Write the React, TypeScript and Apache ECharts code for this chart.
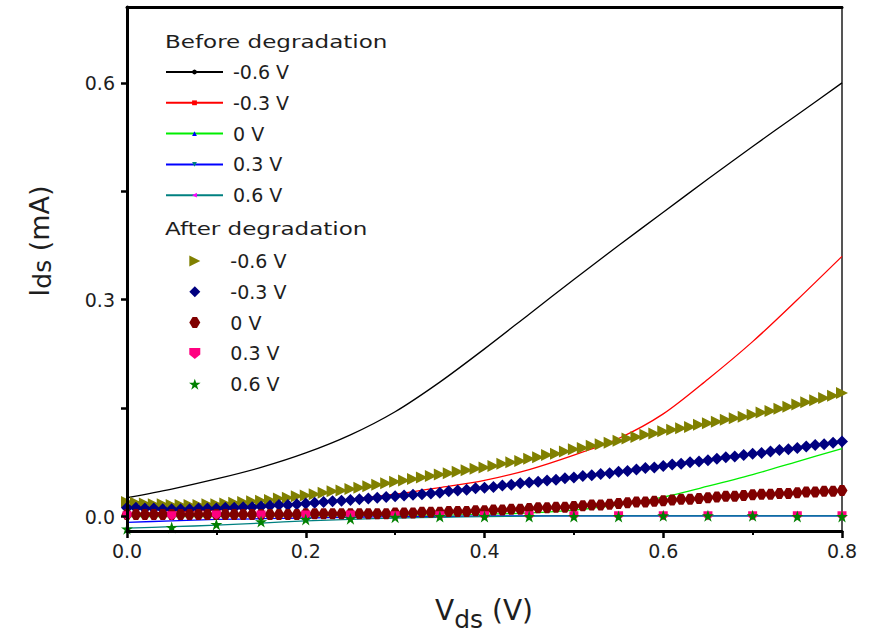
import React, { useEffect, useRef } from "react";
import * as echarts from "echarts";

// ---------- data ----------
const xsCoarse = [0, 0.05, 0.1, 0.15, 0.2, 0.25, 0.3, 0.35, 0.4, 0.45, 0.5, 0.55, 0.6, 0.65, 0.7, 0.75, 0.8];

const xsFine = [
  0.0, 0.01, 0.02, 0.03, 0.04, 0.05, 0.06, 0.07, 0.08, 0.09,
  0.1, 0.11, 0.12, 0.13, 0.14, 0.15, 0.16, 0.17, 0.18, 0.19,
  0.2, 0.21, 0.22, 0.23, 0.24, 0.25, 0.26, 0.27, 0.28, 0.29,
  0.3, 0.31, 0.32, 0.33, 0.34, 0.35, 0.36, 0.37, 0.38, 0.39,
  0.4, 0.41, 0.42, 0.43, 0.44, 0.45, 0.46, 0.47, 0.48, 0.49,
  0.5, 0.51, 0.52, 0.53, 0.54, 0.55, 0.56, 0.57, 0.58, 0.59,
  0.6, 0.61, 0.62, 0.63, 0.64, 0.65, 0.66, 0.67, 0.68, 0.69,
  0.7, 0.71, 0.72, 0.73, 0.74, 0.75, 0.76, 0.77, 0.78, 0.79, 0.8,
];

// Before degradation (lines), mA, sampled on xsCoarse
const beforeM06 = [0.026, 0.038, 0.052, 0.068, 0.088, 0.113, 0.145, 0.186, 0.232, 0.28, 0.328, 0.375, 0.421, 0.467, 0.512, 0.556, 0.6];
const beforeM03 = [0.004, 0.006, 0.009, 0.013, 0.018, 0.024, 0.031, 0.04, 0.05, 0.065, 0.085, 0.108, 0.142, 0.19, 0.242, 0.3, 0.36];
const before0 = [0.0, 0.0, 0.0, 0.001, 0.001, 0.001, 0.002, 0.002, 0.003, 0.005, 0.009, 0.016, 0.027, 0.042, 0.058, 0.076, 0.094];
const beforeP03 = [-0.008, -0.006, -0.004, -0.003, -0.002, -0.001, 0.0, 0.0, 0.001, 0.001, 0.001, 0.001, 0.001, 0.001, 0.001, 0.001, 0.001];
const beforeP06 = [-0.016, -0.014, -0.012, -0.009, -0.006, -0.004, -0.002, -0.001, 0.0, 0.0005, 0.001, 0.001, 0.001, 0.001, 0.001, 0.001, 0.001];

// After degradation (markers)
const afterM06 = [
  0.02, 0.019, 0.018, 0.017, 0.017, 0.016, 0.016, 0.016, 0.016, 0.017,
  0.017, 0.018, 0.019, 0.02, 0.021, 0.022, 0.023, 0.025, 0.026, 0.028,
  0.029, 0.031, 0.033, 0.035, 0.036, 0.038, 0.04, 0.042, 0.044, 0.046,
  0.048, 0.05, 0.052, 0.054, 0.056, 0.058, 0.06, 0.062, 0.064, 0.066,
  0.068, 0.07, 0.073, 0.075, 0.077, 0.08, 0.082, 0.085, 0.087, 0.09,
  0.093, 0.095, 0.098, 0.1, 0.102, 0.105, 0.108, 0.11, 0.113, 0.115,
  0.118, 0.12, 0.122, 0.124, 0.127, 0.129, 0.131, 0.134, 0.136, 0.138,
  0.141, 0.144, 0.146, 0.149, 0.152, 0.155, 0.158, 0.161, 0.164, 0.167, 0.171,
];
const afterM03 = [
  0.012, 0.012, 0.011, 0.011, 0.01, 0.01, 0.01, 0.01, 0.011, 0.011,
  0.011, 0.012, 0.012, 0.013, 0.013, 0.014, 0.015, 0.016, 0.016, 0.017,
  0.018, 0.019, 0.02, 0.021, 0.022, 0.023, 0.024, 0.025, 0.026, 0.027,
  0.028, 0.029, 0.03, 0.031, 0.032, 0.033, 0.035, 0.036, 0.037, 0.039,
  0.04, 0.041, 0.043, 0.044, 0.046, 0.047, 0.048, 0.05, 0.051, 0.053,
  0.054, 0.056, 0.057, 0.059, 0.06, 0.062, 0.063, 0.065, 0.067, 0.068,
  0.07, 0.072, 0.073, 0.075, 0.076, 0.078, 0.08, 0.082, 0.083, 0.085,
  0.087, 0.088, 0.09, 0.092, 0.093, 0.095, 0.097, 0.099, 0.1, 0.102, 0.104,
];
const after0 = [
  0.003, 0.003, 0.003, 0.003, 0.003, 0.003, 0.003, 0.003, 0.003, 0.003,
  0.003, 0.003, 0.003, 0.003, 0.003, 0.003, 0.003, 0.003, 0.003, 0.003,
  0.004, 0.004, 0.004, 0.004, 0.004, 0.004, 0.004, 0.004, 0.004, 0.004,
  0.005, 0.005, 0.005, 0.006, 0.006, 0.006, 0.007, 0.007, 0.007, 0.008,
  0.008, 0.009, 0.009, 0.01, 0.01, 0.011, 0.012, 0.012, 0.013, 0.013,
  0.014, 0.015, 0.016, 0.016, 0.017, 0.018, 0.019, 0.02, 0.02, 0.021,
  0.022, 0.023, 0.024, 0.024, 0.025, 0.026, 0.027, 0.028, 0.028, 0.029,
  0.03, 0.031, 0.031, 0.032, 0.032, 0.033, 0.034, 0.034, 0.035, 0.035, 0.036,
];
const afterP03 = [0.001, 0.001, 0.002, 0.002, 0.002, 0.002, 0.001, 0.001, 0.001, 0.001, 0.001, 0.001, 0.001, 0.001, 0.001, 0.001, 0.001];
const afterP06 = [-0.017, -0.015, -0.011, -0.007, -0.004, -0.003, -0.001, 0.0, 0.0, 0.0, 0.0, 0.0, 0.001, 0.001, 0.001, 0.0, 0.0];

const legendLabels = ["-0.6 V", "-0.3 V", "0 V", "0.3 V", "0.6 V"];
const yTicks = [0, 0.3, 0.6];
const yAllTicks = [0, 0.15, 0.3, 0.45, 0.6];

// ---------- symbols ----------
const TRI_RIGHT = "path://M0,0 L10,5 L0,10 Z";
const TRI_DOWN = "path://M0,0 L10,0 L5,10 Z";
const TRI_LEFT = "path://M10,0 L0,5 L10,10 Z";
const DIAMOND = "path://M5,0 L10,5 L5,10 L0,5 Z";
const HEXAGON = "path://M3,0 L7,0 L10,5 L7,10 L3,10 L0,5 Z";
const PENTA_DOWN = "path://M0,0 L10,0 L10,6 L5,10 L0,6 Z";
const STAR = "path://M5,0 L6.2,3.6 L10,3.6 L6.9,5.8 L8.1,9.5 L5,7.2 L1.9,9.5 L3.1,5.8 L0,3.6 L3.8,3.6 Z";

const FONT = "DejaVu Sans";
const TEXT_COLOR = "#1e1e1e";

const pairs = (xs: number[], ys: number[]) => xs.map((x, i) => [x, ys[i]]);

export default function App() {
  const ref = useRef<HTMLDivElement>(null);

  useEffect(() => {
    if (!ref.current) return;
    const chart = echarts.init(ref.current, undefined, { renderer: "svg" });

    const beforeDefs = [
      { ys: beforeM06, line: "#000000", sym: "circle", symColor: "#000000" },
      { ys: beforeM03, line: "#ff0000", sym: "rect", symColor: "#ff0000" },
      { ys: before0, line: "#00ee00", sym: "triangle", symColor: "#0000ff" },
      { ys: beforeP03, line: "#0000ff", sym: TRI_DOWN, symColor: "#008080" },
      { ys: beforeP06, line: "#008080", sym: TRI_LEFT, symColor: "#ff00ff" },
    ];
    const afterDefs = [
      { ys: afterM06, xs: xsFine, sym: TRI_RIGHT, color: "#808000", size: 12 },
      { ys: afterM03, xs: xsFine, sym: DIAMOND, color: "#000080", size: 12 },
      { ys: after0, xs: xsFine, sym: HEXAGON, color: "#800000", size: 11 },
      { ys: afterP03, xs: xsCoarse, sym: PENTA_DOWN, color: "#ff0080", size: 9 },
      { ys: afterP06, xs: xsCoarse, sym: STAR, color: "#008000", size: 12 },
    ];

    const beforeNames = legendLabels.map((l) => "Before " + l);
    const afterNames = legendLabels.map((l) => "After " + l);

    const series: any[] = [];
    beforeDefs.forEach((d, i) => {
      series.push({
        type: "line",
        name: beforeNames[i],
        data: pairs(xsCoarse, d.ys),
        smooth: 0.3,
        showSymbol: false,
        symbol: d.sym,
        symbolSize: 3,
        lineStyle: { color: d.line, width: 1.3 },
        itemStyle: { color: d.symColor },
        z: 2,
      });
    });
    afterDefs.forEach((d, i) => {
      series.push({
        type: "scatter",
        name: afterNames[i],
        data: pairs(d.xs, d.ys),
        symbol: d.sym,
        symbolSize: d.size,
        itemStyle: { color: d.color, opacity: 1 },
        z: 3 + i,
      });
    });

    const legendText = {
      fontFamily: FONT,
      fontSize: 19,
      color: TEXT_COLOR,
      lineHeight: 20,
      padding: [0, 0, 0, 5],
    };
    const fmt = (name: string) => name.replace(/^(Before|After) /, "");

    const option: any = {
      animation: false,
      grid: {
        left: 127,
        right: 30,
        top: 7,
        bottom: 103,
        outerBoundsMode: "none",
        show: true,
        borderColor: "#555",
        borderWidth: 2,
        backgroundColor: "transparent",
      },
      graphic: [
        {
          type: "text",
          x: 165,
          y: 42,
          scaleX: 1.28,
          style: { text: "Before degradation", fontFamily: FONT, fontSize: 18, fill: TEXT_COLOR, verticalAlign: "middle", align: "left" },
        },
        {
          type: "text",
          x: 165,
          y: 229,
          scaleX: 1.28,
          style: { text: "After degradation", fontFamily: FONT, fontSize: 18, fill: TEXT_COLOR, verticalAlign: "middle", align: "left" },
        },
        {
          type: "text",
          x: 484,
          y: 610,
          style: {
            text: "{a|V}{b|ds}{a| (V)}",
            align: "center",
            verticalAlign: "middle",
            rich: {
              a: { fontFamily: FONT, fontSize: 28, fill: TEXT_COLOR },
              b: { fontFamily: FONT, fontSize: 25, fill: TEXT_COLOR, padding: [18, 0, 0, 0] },
            },
          },
        },
      ],
      legend: [
        {
          data: beforeNames,
          orient: "vertical",
          left: 165,
          top: 62,
          padding: 0,
          itemWidth: 57,
          itemHeight: 6,
          itemGap: 10.8,
          selectedMode: false,
          formatter: fmt,
          textStyle: legendText,
        },
        {
          data: afterNames,
          orient: "vertical",
          left: 189,
          top: 251,
          padding: 0,
          itemWidth: 57,
          itemHeight: 11,
          itemGap: 10.8,
          selectedMode: false,
          formatter: fmt,
          textStyle: { ...legendText, padding: [0, 0, 0, 2] },
        },
      ],
      xAxis: [
        {
          type: "value",
          position: "bottom",
          min: 0,
          max: 0.8,
          interval: 0.2,
          z: 10,
          axisLine: { show: true, onZero: false, lineStyle: { color: "#000", width: 3 } },
          axisTick: { show: true, inside: false, length: 7, lineStyle: { color: "#000", width: 2.5 } },
          minorTick: { show: true, splitNumber: 2, length: 4, lineStyle: { color: "#000", width: 2 } },
          splitLine: { show: true, lineStyle: { color: "rgba(0,0,0,0)" } },
          axisLabel: {
            show: true,
            formatter: (v: number) => v.toFixed(1),
            fontFamily: FONT,
            fontSize: 19,
            color: TEXT_COLOR,
            margin: 10,
          },
        },
        {
          type: "value",
          position: "top",
          min: 0,
          max: 0.8,
          z: 10,
          axisLine: { show: true, onZero: false, lineStyle: { color: "#000", width: 3 } },
          axisTick: { show: false },
          axisLabel: { show: false },
          splitLine: { show: false },
        },
      ],
      yAxis: [
        {
          type: "value",
          position: "left",
          min: -0.02,
          max: 0.705,
          z: 10,
          axisLine: { show: true, onZero: false, lineStyle: { color: "#000", width: 3 } },
          axisTick: { show: true, inside: false, length: 6, customValues: yAllTicks, lineStyle: { color: "#000", width: 2.5 } },
          axisLabel: {
            customValues: yTicks,
            formatter: (v: number) => v.toFixed(1),
            fontFamily: FONT,
            fontSize: 19,
            color: TEXT_COLOR,
            margin: 12,
          },
          splitLine: { show: false },
          name: "{a|I}{b|ds}{a| (mA)}",
          nameLocation: "middle",
          nameGap: 72,
          nameRotate: 90,
          nameTextStyle: {
            padding: [0, 0, 0, 56],
            rich: {
              a: { fontFamily: FONT, fontSize: 27, color: TEXT_COLOR },
              b: { fontFamily: FONT, fontSize: 25, color: TEXT_COLOR, padding: [6, 0, 0, 0] },
            },
          },
        },
      ],
      series,
    };

    chart.setOption(option);
    return () => chart.dispose();
  }, []);

  return <div ref={ref} style={{ position: "fixed", left: 0, top: 0, width: 872, height: 634, background: "#fff" }} />;
}
